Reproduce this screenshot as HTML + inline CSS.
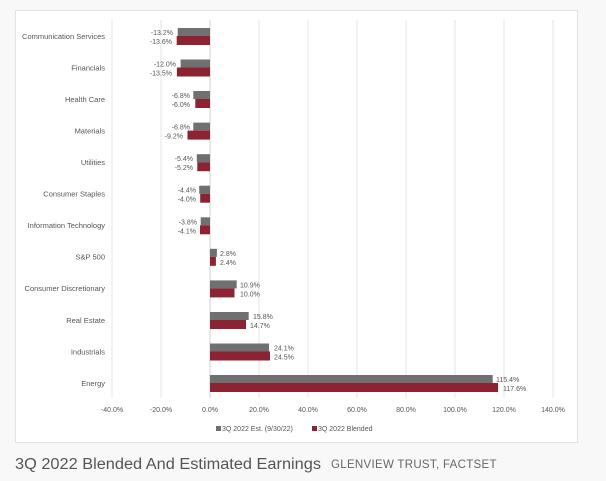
<!DOCTYPE html>
<html><head><meta charset="utf-8"><style>
html,body{margin:0;padding:0;background:#f8f8f8;}
body{width:606px;height:481px;position:relative;overflow:hidden;font-family:"Liberation Sans",sans-serif;}
svg{position:absolute;left:0;top:0;}
</style></head><body>
<svg width="606" height="481" viewBox="0 0 606 481" font-family="Liberation Sans, sans-serif">
<rect x="15.5" y="10.5" width="562" height="432" fill="#fff" stroke="#e2e2e2"/>
<g stroke="#e4e4e4" stroke-width="1">
<line x1="112" y1="20" x2="112" y2="398"/><line x1="161" y1="20" x2="161" y2="398"/>
<line x1="259" y1="20" x2="259" y2="398"/><line x1="308" y1="20" x2="308" y2="398"/>
<line x1="357" y1="20" x2="357" y2="398"/><line x1="406" y1="20" x2="406" y2="398"/>
<line x1="455" y1="20" x2="455" y2="398"/><line x1="504" y1="20" x2="504" y2="398"/>
<line x1="553" y1="20" x2="553" y2="398"/>
</g>
<line x1="210" y1="20" x2="210" y2="398" stroke="#d0d0d0"/>
<g font-size="7.5" fill="#555" text-anchor="end">
<text x="105" y="39">Communication Services</text>
<text x="105" y="70.5">Financials</text>
<text x="105" y="102">Health Care</text>
<text x="105" y="133.5">Materials</text>
<text x="105" y="165">Utilities</text>
<text x="105" y="196.5">Consumer Staples</text>
<text x="105" y="228">Information Technology</text>
<text x="105" y="259.5">S&amp;P 500</text>
<text x="105" y="291">Consumer Discretionary</text>
<text x="105" y="323">Real Estate</text>
<text x="105" y="354.5">Industrials</text>
<text x="105" y="386">Energy</text>
</g>
<g fill="#707070">
<rect x="177.7" y="28" width="32.3" height="8"/>
<rect x="180.6" y="59.5" width="29.4" height="8"/>
<rect x="193.3" y="91" width="16.7" height="8"/>
<rect x="193.3" y="122.6" width="16.7" height="8"/>
<rect x="196.8" y="154.2" width="13.2" height="8"/>
<rect x="199.2" y="185.7" width="10.8" height="8"/>
<rect x="200.7" y="217.3" width="9.3" height="8"/>
<rect x="210" y="248.8" width="6.9" height="8"/>
<rect x="210" y="280.4" width="26.7" height="8"/>
<rect x="210" y="312" width="38.7" height="8"/>
<rect x="210" y="343.5" width="59" height="8"/>
<rect x="210" y="375" width="282.7" height="8"/>
</g>
<g fill="#8b2332">
<rect x="176.7" y="36" width="33.3" height="9"/>
<rect x="176.9" y="67.5" width="33.1" height="9"/>
<rect x="195.3" y="99" width="14.7" height="9"/>
<rect x="187.5" y="130.6" width="22.5" height="9"/>
<rect x="197.3" y="162.2" width="12.7" height="9"/>
<rect x="200.2" y="193.7" width="9.8" height="9"/>
<rect x="200" y="225.3" width="10" height="9"/>
<rect x="210" y="256.8" width="5.9" height="9"/>
<rect x="210" y="288.4" width="24.5" height="9"/>
<rect x="210" y="320" width="36" height="9"/>
<rect x="210" y="351.5" width="60" height="9"/>
<rect x="210" y="383" width="288.1" height="9"/>
</g>
<g font-size="7" fill="#555" text-anchor="end">
<text x="173" y="35">-13.2%</text><text x="172" y="44">-13.6%</text>
<text x="176" y="66.5">-12.0%</text><text x="172" y="75.5">-13.5%</text>
<text x="190" y="98">-6.8%</text><text x="190" y="107">-6.0%</text>
<text x="190" y="129.6">-6.8%</text><text x="183" y="138.6">-9.2%</text>
<text x="193" y="161.2">-5.4%</text><text x="193" y="170.2">-5.2%</text>
<text x="196" y="192.7">-4.4%</text><text x="196" y="201.7">-4.0%</text>
<text x="197" y="224.3">-3.8%</text><text x="196" y="233.3">-4.1%</text>
</g>
<g font-size="7" fill="#555">
<text x="220" y="255.8">2.8%</text><text x="220" y="264.8">2.4%</text>
<text x="240" y="287.4">10.9%</text><text x="240" y="296.4">10.0%</text>
<text x="253" y="319">15.8%</text><text x="250" y="328">14.7%</text>
<text x="274" y="350.5">24.1%</text><text x="274" y="359.5">24.5%</text>
<text x="496" y="382">115.4%</text><text x="503" y="391">117.6%</text>
</g>
<g font-size="7" fill="#555" text-anchor="middle">
<text x="112" y="412">-40.0%</text><text x="161" y="412">-20.0%</text><text x="210" y="412">0.0%</text>
<text x="259" y="412">20.0%</text><text x="308" y="412">40.0%</text><text x="357" y="412">60.0%</text>
<text x="406" y="412">80.0%</text><text x="455" y="412">100.0%</text><text x="504" y="412">120.0%</text>
<text x="553" y="412">140.0%</text>
</g>
<rect x="216" y="426" width="5" height="5" fill="#707070"/>
<text x="222" y="431" font-size="7" fill="#555">3Q 2022 Est. (9/30/22)</text>
<rect x="312" y="426" width="5" height="5" fill="#8b2332"/>
<text x="318" y="431" font-size="7" fill="#555">3Q 2022 Blended</text>
<text x="15" y="469" font-size="15.5" fill="#555" textLength="306" lengthAdjust="spacingAndGlyphs">3Q 2022 Blended And Estimated Earnings</text>
<text x="331" y="468" font-size="11.5" fill="#666" letter-spacing="0.3">GLENVIEW TRUST, FACTSET</text>
</svg>
</body></html>
